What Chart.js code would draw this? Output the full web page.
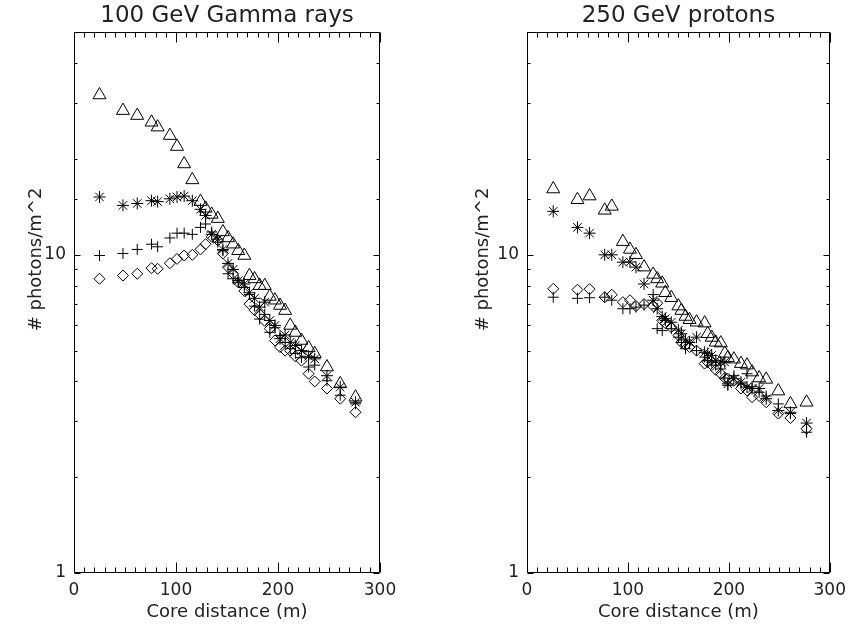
<!DOCTYPE html>
<html lang="en">
<head>
    <meta charset="UTF-8">
    <title>Photon density vs core distance</title>
    <script src="https://cdn.jsdelivr.net/npm/chart.js"></script>
    <style>
        body {
            margin: 0;
            background: #fff;
            width: 853px;
            height: 632px;
            overflow: hidden;
            position: relative;
        }
        canvas {
            position: absolute;
            top: 0;
        }
        #gammaChart { left: 0; }
        #protonChart { left: 426px; }
    </style>
</head>
<body>
    <canvas id="gammaChart" width="426" height="632"></canvas>
    <canvas id="protonChart" width="427" height="632"></canvas>

    <script>
        // core distance (m) of each sample, one list per panel
        const gammaDist = [25, 48, 62, 76, 82, 94, 101, 108, 116, 124, 129, 135, 141, 146, 151, 156, 161, 167, 172, 177, 182, 187, 192, 197, 202, 207, 212, 217, 223, 230, 236, 248, 261, 276];
        const gammaTri = [31.8, 28.4, 27.4, 26.1, 25.2, 23.7, 21.9, 19.3, 17.2, 14.7, 14.0, 13.4, 13.0, 11.8, 11.3, 10.8, 10.3, 9.95, 8.6, 8.4, 8.0, 8.0, 7.4, 7.2, 6.93, 6.68, 6.0, 5.7, 5.38, 5.1, 4.89, 4.44, 3.93, 3.57];
        const gammaStar = [15.2, 14.3, 14.5, 14.8, 14.7, 15.0, 15.2, 15.3, 14.8, 13.9, 13.3, 11.6, 11.2, 10.4, 9.4, 9.0, 8.3, 8.1, 7.6, 7.3, 6.85, 7.1, 6.22, 6.0, 5.45, 5.6, 5.31, 5.19, 5.0, 4.8, 4.71, 4.17, 3.84, 3.44];
        const gammaPlus = [9.95, 10.1, 10.4, 10.8, 10.6, 11.3, 11.7, 11.7, 11.6, 12.2, 12.5, 11.8, 10.96, 10.3, 8.72, 8.41, 8.2, 7.9, 7.5, 6.9, 6.28, 6.5, 5.71, 5.9, 5.58, 5.3, 5.07, 4.9, 4.75, 4.44, 4.5, 4.02, 3.62, 3.40];
        const gammaDiamond = [8.41, 8.61, 8.72, 9.08, 9.04, 9.41, 9.71, 9.95, 10.0, 10.4, 10.8, 11.4, 11.1, 10.1, 9.15, 8.72, 8.2, 7.7, 7.0, 6.7, 6.5, 6.2, 5.86, 5.38, 5.13, 5.0, 5.0, 4.8, 4.65, 4.23, 4.0, 3.8, 3.53, 3.2];

        const protonDist = [26, 50, 62, 77, 84, 95, 102, 108, 116, 125, 129, 134, 137, 143, 150, 153, 157, 161, 168, 176, 179, 183, 187, 192, 196, 199, 205, 212, 218, 223, 230, 237, 249, 261, 277];
        const protonTri = [16.1, 14.9, 15.3, 13.8, 14.2, 11.0, 10.4, 10.0, 9.15, 8.68, 8.4, 8.14, 7.6, 7.33, 6.9, 6.68, 6.4, 6.25, 6.14, 6.1, 5.65, 5.5, 5.31, 5.28, 4.9, 4.75, 4.7, 4.55, 4.5, 4.28, 4.1, 4.06, 3.73, 3.40, 3.44];
        const protonStar = [13.7, 12.2, 11.7, 10.0, 10.0, 9.48, 9.5, 9.15, 8.1, 7.2, 6.77, 6.40, 6.3, 6.14, 5.8, 5.65, 5.4, 5.31, 5.51, 4.94, 4.9, 4.83, 4.65, 4.6, 4.6, 3.93, 4.08, 3.98, 3.84, 3.80, 3.80, 3.53, 3.24, 3.20, 2.96];
        const protonPlus = [7.36, 7.3, 7.33, 7.36, 7.2, 6.77, 6.77, 6.85, 6.95, 7.5, 5.86, 5.78, 6.22, 5.86, 5.51, 5.3, 5.07, 5.31, 5.0, 4.77, 4.65, 4.6, 4.5, 4.38, 4.1, 3.89, 4.17, 3.93, 4.23, 3.85, 3.70, 3.6, 3.40, 3.17, 2.77];
        const protonDiamond = [7.82, 7.77, 7.8, 7.36, 7.49, 7.1, 7.2, 6.9, 7.0, 6.9, 7.05, 6.22, 6.1, 5.92, 5.58, 5.31, 5.2, 5.13, 5.0, 4.55, 4.6, 4.5, 4.35, 4.23, 4.1, 4.08, 4.02, 3.8, 3.75, 3.57, 3.6, 3.44, 3.17, 3.07, 2.84];

        const xTickLabels = [0, 100, 200, 300];
        const yTickLabels = [1, 10];
        const yTitle = '# photons/m^2';

        Chart.defaults.font.family = "'DejaVu Sans', sans-serif";
        Chart.defaults.color = '#222';

        // IDL style frame: box on all four sides, ticks pointing inwards,
        // y title drawn here because it sits above the middle of the axis
        const frameTicks = {
            id: 'frameTicks',
            afterDatasetsDraw(chart, args, opts) {
                const {ctx, chartArea: a, scales: {x, y}} = chart;
                const L = Math.round(a.left) + 0.5, R = Math.round(a.right) - 0.5;
                const T = Math.round(a.top) + 0.5, B = Math.round(a.bottom) - 0.5;
                ctx.save();
                ctx.strokeStyle = '#000';
                ctx.lineWidth = 1;
                ctx.beginPath();
                ctx.rect(L, T, R - L, B - T);
                x.ticks.forEach(t => {
                    const px = Math.round(x.getPixelForValue(t.value)) + 0.5;
                    const len = xTickLabels.includes(t.value) ? 10 : 5;
                    ctx.moveTo(px, B); ctx.lineTo(px, B - len);
                    ctx.moveTo(px, T); ctx.lineTo(px, T + len);
                });
                y.ticks.forEach(t => {
                    const py = Math.round(y.getPixelForValue(t.value)) + 0.5;
                    const len = yTickLabels.includes(t.value) ? 6 : 3;
                    ctx.moveTo(L, py); ctx.lineTo(L + len, py);
                    ctx.moveTo(R, py); ctx.lineTo(R - len, py);
                });
                ctx.stroke();

                ctx.translate(opts.titleX, a.top + (a.bottom - a.top) * 0.42);
                ctx.rotate(-Math.PI / 2);
                ctx.fillStyle = '#222';
                ctx.font = "18px 'DejaVu Sans', sans-serif";
                ctx.textAlign = 'center';
                ctx.textBaseline = 'middle';
                ctx.fillText(yTitle, 0, 0);
                ctx.restore();
            }
        };

        function series(xs, ys, style, radius) {
            return {
                data: xs.map((v, i) => ({x: v, y: ys[i]})),
                pointStyle: style,
                pointRadius: radius,
                pointBorderWidth: 1,
                borderColor: '#000',
                backgroundColor: 'rgba(0,0,0,0)',
                showLine: false
            };
        }

        function makeChart(id, title, xs, tri, star, plus, diamond, yWidth, padRight, yTitleX) {
            return new Chart(document.getElementById(id), {
                type: 'scatter',
                data: {
                    datasets: [
                        series(xs, tri, 'triangle', 7.5),
                        series(xs, star, 'star', 6),
                        series(xs, plus, 'cross', 5.5),
                        series(xs, diamond, 'rectRot', 5.5)
                    ]
                },
                options: {
                    responsive: false,
                    animation: false,
                    layout: {padding: {left: 0, right: padRight, top: 0, bottom: 0}},
                    plugins: {
                        legend: {display: false},
                        tooltip: {enabled: false},
                        frameTicks: {titleX: yTitleX},
                        title: {
                            display: true,
                            text: title,
                            fullSize: false,
                            color: '#222',
                            font: {size: 23, weight: 'normal', lineHeight: 1.15},
                            padding: {top: 3, bottom: 3}
                        }
                    },
                    scales: {
                        x: {
                            type: 'linear',
                            min: 0,
                            max: 300,
                            grid: {display: false, drawTicks: false},
                            border: {display: false},
                            ticks: {
                                stepSize: 10,
                                autoSkip: false,
                                maxRotation: 0,
                                padding: 7,
                                font: {size: 17},
                                callback: v => xTickLabels.includes(v) ? String(v) : ''
                            },
                            title: {
                                display: true,
                                text: 'Core distance (m)',
                                font: {size: 18},
                                padding: {top: 0, bottom: 9}
                            },
                            afterFit: s => { s.height = 59; }
                        },
                        y: {
                            type: 'logarithmic',
                            min: 1,
                            max: 50,
                            grid: {display: false, drawTicks: false},
                            border: {display: false},
                            ticks: {
                                autoSkip: false,
                                padding: 8,
                                font: {size: 17},
                                callback: v => yTickLabels.includes(v) ? String(v) : ''
                            },
                            afterFit: s => { s.width = yWidth; }
                        }
                    }
                },
                plugins: [frameTicks]
            });
        }

        makeChart('gammaChart', '100 GeV Gamma rays', gammaDist, gammaTri, gammaStar, gammaPlus, gammaDiamond, 74, 46, 36);
        makeChart('protonChart', '250 GeV protons', protonDist, protonTri, protonStar, protonPlus, protonDiamond, 101, 20, 57);
    </script>
</body>
</html>
